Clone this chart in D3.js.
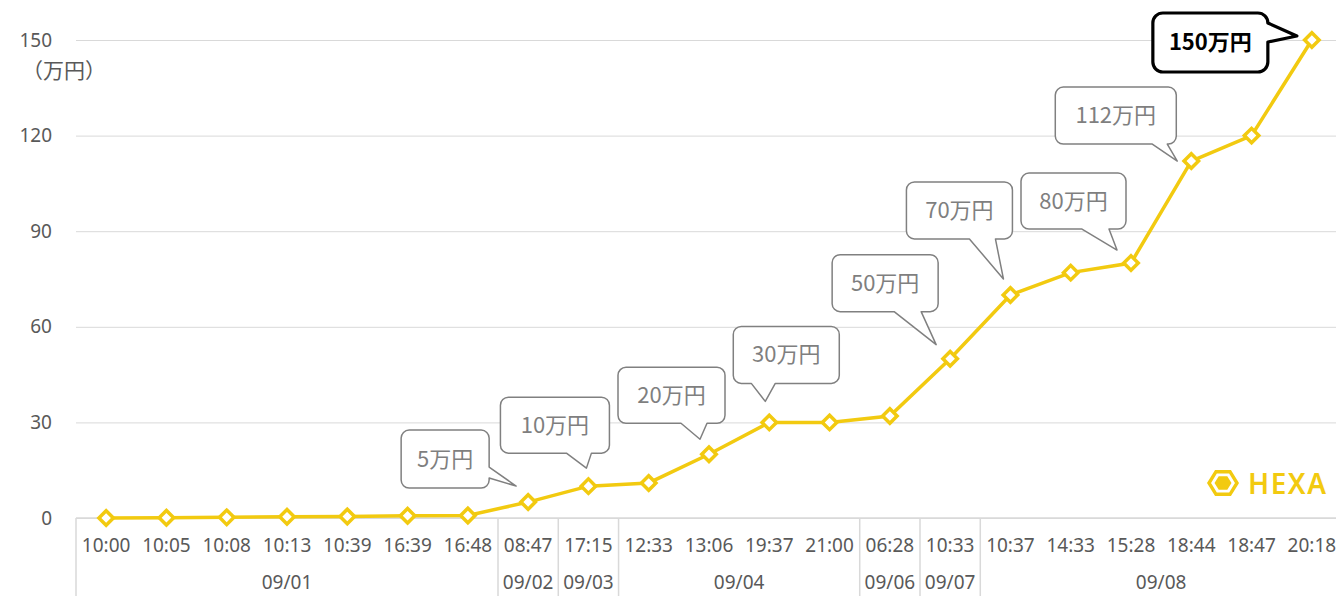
<!DOCTYPE html>
<html>
<head>
<meta charset="utf-8">
<script src="https://cdn.jsdelivr.net/npm/d3@7.9.0/dist/d3.min.js"></script>
<style>
  html, body { margin: 0; padding: 0; background: #fff; }
  #chart { width: 1336px; height: 596px; overflow: hidden; }
  svg { display: block; font-family: "Noto Sans", "Noto Sans CJK JP", sans-serif; }
</style>
</head>
<body>
<div id="chart"></div>
<script>
// data
const times = ["10:00", "10:05", "10:08", "10:13", "10:39", "16:39", "16:48",
  "08:47", "17:15", "12:33", "13:06", "19:37", "21:00", "06:28", "10:33",
  "10:37", "14:33", "15:28", "18:44", "18:47", "20:18"];
const dates = ["09/01", "09/01", "09/01", "09/01", "09/01", "09/01", "09/01",
  "09/02", "09/03", "09/04", "09/04", "09/04", "09/04", "09/06", "09/07",
  "09/08", "09/08", "09/08", "09/08", "09/08", "09/08"];
const amounts = [0, 0.1, 0.2, 0.4, 0.5, 0.7, 0.8, 5, 10, 11, 20, 30, 30, 32, 50,
  70, 77, 80, 112, 120, 150];
const yTicks = [0, 30, 60, 90, 120, 150];
const unitLabel = "（万円）";

// callouts: which point, what it says
const calloutIndex = [7, 8, 10, 11, 14, 15, 17, 18, 20];
const calloutText = ["5万円", "10万円", "20万円", "30万円", "50万円", "70万円", "80万円", "112万円", "150万円"];

// callout layout (box offset from point, tail position), one entry per callout
const calloutLayout = [
  { dx: -127, dy: -72, w: 88, h: 58, edge: "right", b1: 37, b2: 48, tx: -12, ty: -16 },
  { dx: -88, dy: -89, w: 109, h: 56, edge: "bottom", b1: 66, b2: 91, tx: -2, ty: -18 },
  { dx: -91, dy: -87, w: 107, h: 56, edge: "bottom", b1: 63, b2: 89, tx: -9, ty: -15 },
  { dx: -36, dy: -96, w: 106, h: 57, edge: "bottom", b1: 18, b2: 42, tx: -4, ty: -21 },
  { dx: -118, dy: -104, w: 106, h: 57, edge: "bottom", b1: 62, b2: 89, tx: -14, ty: -14 },
  { dx: -104, dy: -113, w: 106, h: 57, edge: "bottom", b1: 63, b2: 89, tx: -7, ty: -16 },
  { dx: -110, dy: -90, w: 105, h: 56, edge: "bottom", b1: 61, b2: 88, tx: -14, ty: -13 },
  { dx: -136, dy: -74, w: 121, h: 57, edge: "bottom", b1: 97, b2: 112, tx: -14, ty: 0 },
  { dx: -159, dy: -27, w: 115, h: 59, edge: "right", b1: 10, b2: 29, tx: -15, ty: -4, strong: true }
];

const width = 1336, height = 596;
const plotLeft = 76, plotRight = 1342, plotTop = 40, plotBottom = 518;
const yellow = "#f2ca10";
const gridColor = "#d9d9d9";
const labelColor = "#595959";

const svg = d3.select("#chart").append("svg")
  .attr("width", width)
  .attr("height", height);

const x = d3.scaleBand()
  .domain(d3.range(times.length))
  .range([plotLeft, plotRight])
  .paddingInner(0).paddingOuter(0);
const cx = i => x(i) + x.bandwidth() / 2;

const y = d3.scaleLinear()
  .domain([0, 150])
  .range([plotBottom, plotTop]);

// gridlines + y labels
const yAxis = svg.append("g")
  .attr("transform", `translate(${plotLeft},0)`)
  .call(d3.axisLeft(y).tickValues(yTicks).tickSize(-(width - plotLeft)).tickPadding(24));
yAxis.select(".domain").remove();
yAxis.selectAll(".tick line").attr("stroke", gridColor).attr("stroke-width", 1);
yAxis.selectAll(".tick text")
  .attr("fill", labelColor)
  .style("font-size", "19px")
  .style("font-family", "'Noto Sans', sans-serif");

svg.append("text")
  .attr("x", 22)
  .attr("y", 78)
  .attr("fill", labelColor)
  .style("font-size", "21px")
  .style("font-family", "'Noto Sans CJK JP', sans-serif")
  .text(unitLabel);

// x axis: baseline and group separators
svg.append("line")
  .attr("x1", plotLeft).attr("x2", width)
  .attr("y1", plotBottom).attr("y2", plotBottom)
  .attr("stroke", gridColor).attr("stroke-width", 1.5);

const groups = [];
dates.forEach((d, i) => {
  const last = groups[groups.length - 1];
  if (last && last.date === d) last.end = i;
  else groups.push({ date: d, start: i, end: i });
});

svg.append("g").selectAll("line")
  .data(groups)
  .join("line")
  .attr("x1", g => x(g.start)).attr("x2", g => x(g.start))
  .attr("y1", plotBottom).attr("y2", height)
  .attr("stroke", gridColor).attr("stroke-width", 1.5);

svg.append("g").selectAll("text")
  .data(times)
  .join("text")
  .attr("x", (d, i) => cx(i))
  .attr("y", 552)
  .attr("text-anchor", "middle")
  .attr("fill", labelColor)
  .style("font-size", "19px")
  .text(d => d);

svg.append("g").selectAll("text")
  .data(groups)
  .join("text")
  .attr("x", g => (x(g.start) + x(g.end) + x.bandwidth()) / 2)
  .attr("y", 589)
  .attr("text-anchor", "middle")
  .attr("fill", labelColor)
  .style("font-size", "19px")
  .text(g => g.date);

// logo
const logo = svg.append("g").attr("transform", "translate(1223,483)");
const hex = r => d3.range(6).map(k => [r * Math.cos(k * Math.PI / 3), r * Math.sin(k * Math.PI / 3) * 0.93]);
logo.append("polygon")
  .attr("points", hex(14).join(" "))
  .attr("fill", "none").attr("stroke", yellow).attr("stroke-width", 3.4);
logo.append("polygon")
  .attr("points", hex(8.5).join(" "))
  .attr("fill", yellow);
logo.append("text")
  .attr("x", 25)
  .attr("y", 10.5)
  .attr("fill", yellow)
  .style("font-size", "28px")
  .style("font-weight", "600")
  .style("letter-spacing", "1.5px")
  .text("HEXA");

// line + markers
const line = d3.line()
  .x((d, i) => cx(i))
  .y(d => y(d));

svg.append("path")
  .datum(amounts)
  .attr("fill", "none")
  .attr("stroke", yellow)
  .attr("stroke-width", 3.5)
  .attr("d", line);

svg.append("g").selectAll("path")
  .data(amounts)
  .join("path")
  .attr("transform", (d, i) => `translate(${cx(i)},${y(d)}) rotate(45)`)
  .attr("d", d3.symbol(d3.symbolSquare, 105))
  .attr("fill", "#fff")
  .attr("stroke", yellow)
  .attr("stroke-width", 3.5);

// callouts
function calloutPath(bx, by, c, tipX, tipY, r) {
  const p = d3.path();
  const w = c.w, h = c.h;
  p.moveTo(bx + r, by);
  p.lineTo(bx + w - r, by);
  p.arcTo(bx + w, by, bx + w, by + r, r);
  if (c.edge === "right") {
    p.lineTo(bx + w, by + c.b1);
    p.lineTo(tipX, tipY);
    p.lineTo(bx + w, by + c.b2);
  }
  p.lineTo(bx + w, by + h - r);
  p.arcTo(bx + w, by + h, bx + w - r, by + h, r);
  if (c.edge === "bottom") {
    p.lineTo(bx + c.b2, by + h);
    p.lineTo(tipX, tipY);
    p.lineTo(bx + c.b1, by + h);
  }
  p.lineTo(bx + r, by + h);
  p.arcTo(bx, by + h, bx, by + h - r, r);
  p.lineTo(bx, by + r);
  p.arcTo(bx, by, bx + r, by, r);
  p.closePath();
  return p.toString();
}

const callouts = svg.append("g");
calloutIndex.forEach((idx, k) => {
  const c = calloutLayout[k];
  const px = cx(idx), py = y(amounts[idx]);
  const bx = px + c.dx, by = py + c.dy;
  callouts.append("path")
    .attr("d", calloutPath(bx, by, c, px + c.tx, py + c.ty, c.strong ? 10 : 8))
    .attr("fill", "#fff")
    .attr("stroke", c.strong ? "#000" : "#808080")
    .attr("stroke-width", c.strong ? 3.2 : 1.5)
    .attr("stroke-linejoin", "round");
  callouts.append("text")
    .attr("x", bx + c.w / 2)
    .attr("y", by + c.h / 2 + 7.5)
    .attr("text-anchor", "middle")
    .attr("fill", c.strong ? "#000" : "#7f7f7f")
    .style("font-size", "22px")
    .style("font-weight", c.strong ? "bold" : "normal")
    .style("font-family", "'Noto Sans CJK JP', sans-serif")
    .text(calloutText[k]);
});
</script>
</body>
</html>
